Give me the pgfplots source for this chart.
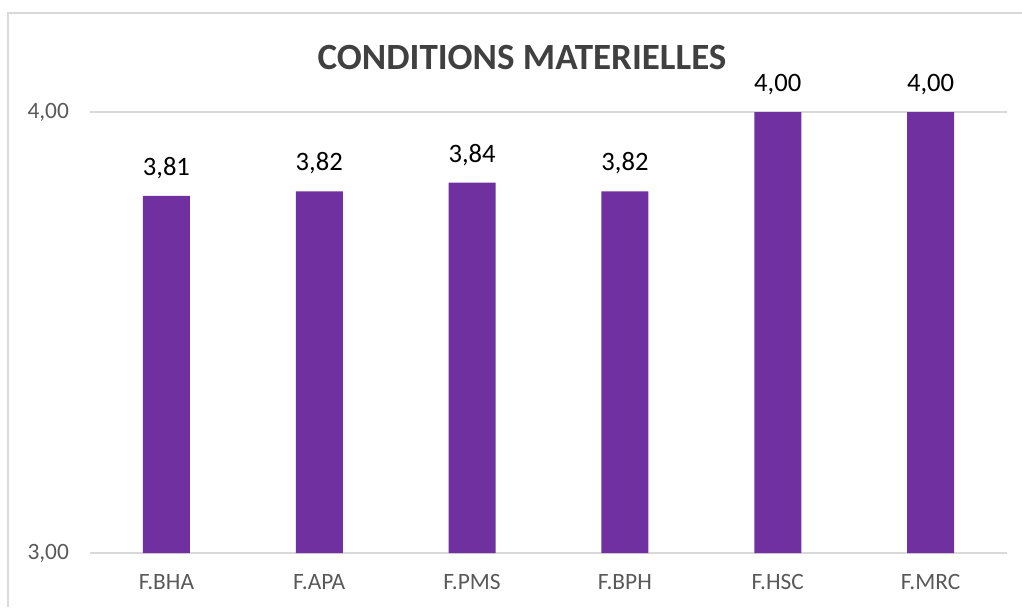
\documentclass[border=0pt]{standalone}
\usepackage{pgfplots}
\pgfplotsset{compat=1.18}
\usepackage{fontspec}
\setmainfont{Carlito}
\definecolor{barpurple}{HTML}{7030A0}
\definecolor{gridgray}{HTML}{D9D9D9}
\definecolor{ticktext}{HTML}{595959}
\definecolor{titletext}{HTML}{404040}
\begin{document}
\begin{tikzpicture}[x=0.5pt,y=0.5pt]
\useasboundingbox (0,0) rectangle (1022,607);
\draw[gridgray, line width=0.8pt] (8,0) -- (8,594) -- (1022,594);
\node[font=\fontsize{18.5}{20}\selectfont\bfseries, text=titletext] at (522,550) {CONDITIONS MATERIELLES};
\begin{axis}[
  at={(45pt,27pt)}, anchor=south west,
  scale only axis, width=458.5pt, height=220.5pt,
  ymin=3, ymax=4, xmin=-0.5, xmax=5.5,
  axis line style={draw=none},
  ytick={3,4},
  ymajorgrids, grid style={gridgray, line width=0.8pt},
  major tick length=0pt,
  xtick=data,
  xticklabels={F.BHA,F.APA,F.PMS,F.BPH,F.HSC,F.MRC},
  /pgf/number format/assume math mode=true,
  yticklabel={\pgfmathprintnumber[fixed,fixed zerofill,precision=2,use comma]{\tick}},
  yticklabel style={font=\fontsize{11.7}{13}\selectfont, text=ticktext, xshift=-7pt},
  xticklabel style={font=\fontsize{11.7}{13}\selectfont, text=ticktext, yshift=-7pt},
  ybar, bar width=23.5pt,
  clip=false,
  nodes near coords={\pgfmathprintnumber[fixed,fixed zerofill,precision=2,use comma,assume math mode=true]{\pgfplotspointmeta}},
  nodes near coords style={font=\fontsize{13.3}{15}\selectfont, text=black, anchor=south, yshift=5pt},
]
\addplot[fill=barpurple, draw=none] coordinates {(0,3.81) (1,3.82) (2,3.84) (3,3.82) (4,4.00) (5,4.00)};
\end{axis}
\end{tikzpicture}
\end{document}
